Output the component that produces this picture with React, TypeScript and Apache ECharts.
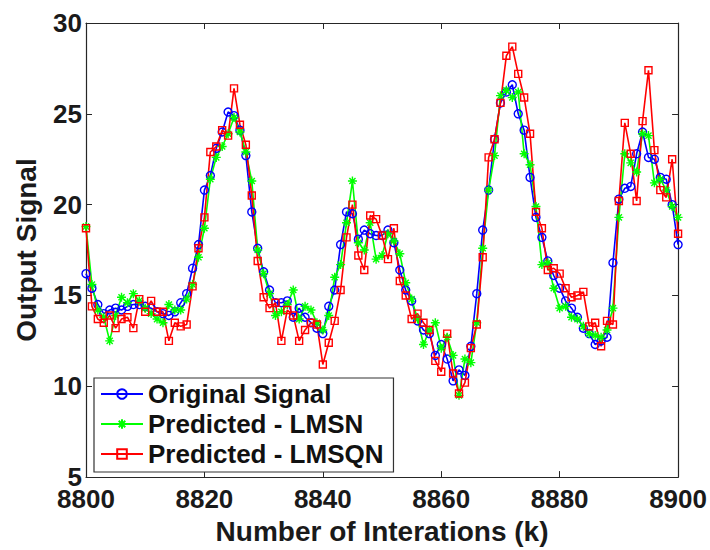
import React, { useEffect, useRef } from "react";
import * as echarts from "echarts";

const startIteration = 8800;
const xTicks = [8800, 8820, 8840, 8860, 8880, 8900];
const yTicks = [5, 10, 15, 20, 25, 30];

const originalSignal = [
  16.2, 15.4, 14.5, 14.0, 14.2, 14.3, 14.2, 14.4, 14.5, 14.5,
  14.4, 14.3, 14.1, 14.0, 13.9, 14.1, 14.6, 15.1, 16.5, 17.8,
  20.8, 21.6, 23.1, 24.0, 25.1, 24.9, 24.1, 22.7, 19.6, 17.6,
  16.3, 15.3, 14.6, 14.6, 14.7, 13.8, 14.3, 13.8, 13.5, 13.2,
  12.9, 14.4, 15.3, 17.8, 19.6, 19.5, 18.1, 18.6, 18.4, 18.3,
  18.3, 18.6, 17.9, 16.4, 15.3, 14.7, 13.6, 13.1, 12.9, 11.7,
  12.3, 11.5, 10.3, 10.9, 10.6, 12.2, 15.1, 18.6, 20.8, 23.6,
  25.6, 26.2, 26.6, 25.0, 24.1, 21.5, 19.3, 18.2, 16.9, 16.1,
  15.4, 14.7, 14.3, 13.8, 13.2, 12.9, 12.3, 12.5, 12.7, 16.8,
  20.3, 20.9, 21.0, 22.8, 24.0, 22.6, 22.5, 21.5, 21.4, 20.0,
  17.8,
];

const predictedLMSN = [
  18.8, 15.6, 14.2, 13.8, 12.5, 13.9, 14.9, 14.6, 15.1, 14.7,
  14.3, 14.0, 13.7, 13.5, 14.5, 14.2, 14.2, 14.8, 15.6, 17.1,
  18.7, 21.4, 22.6, 23.2, 23.9, 24.8, 24.0, 22.9, 21.3, 17.5,
  16.2, 15.1, 13.9, 14.1, 14.5, 15.3, 13.7, 14.4, 14.2, 13.5,
  13.1, 13.9, 16.0, 16.7, 19.0, 21.3, 17.9, 17.5, 19.0, 17.0,
  17.2, 18.4, 18.0, 17.3, 15.7, 14.8, 13.7, 12.3, 13.1, 13.5,
  12.1, 12.7, 11.7, 9.5, 11.5, 11.3, 13.5, 17.6, 20.8, 22.7,
  26.0, 26.3, 25.9, 26.2, 22.8, 22.2, 19.9, 16.7, 16.8, 15.4,
  14.3, 14.4, 13.8, 13.7, 13.3, 12.9, 12.8, 12.7, 13.1, 14.3,
  19.3, 22.8, 22.3, 21.8, 23.9, 23.8, 21.2, 21.4, 20.8, 19.9,
  19.3,
];

const predictedLMSQN = [
  18.7, 14.4, 13.7, 13.5, 13.9, 13.2, 13.7, 13.8, 13.2, 14.8,
  14.1, 14.7, 14.1, 14.1, 12.5, 13.5, 13.3, 13.4, 15.5, 17.6,
  19.3, 22.9, 23.2, 24.1, 23.8, 26.4, 24.4, 23.3, 20.5, 16.9,
  14.9, 14.3, 14.6, 12.5, 14.2, 13.9, 12.5, 13.1, 13.5, 13.4,
  11.2, 12.4, 13.6, 15.3, 18.2, 20.0, 17.2, 16.4, 19.4, 19.2,
  18.3, 17.0, 18.7, 15.8, 15.0, 13.7, 14.0, 13.5, 13.1, 11.4,
  10.8, 12.9, 10.7, 9.6, 10.2, 12.1, 13.4, 17.1, 22.6, 23.6,
  25.6, 28.2, 28.7, 27.2, 25.9, 23.9, 19.6, 18.7, 16.4, 16.5,
  16.2, 15.4, 14.9, 15.0, 15.2, 13.3, 13.5, 12.2, 13.6, 13.4,
  20.2, 24.5, 22.8, 20.2, 24.6, 27.4, 23.0, 20.8, 20.4, 22.5,
  18.4,
];

const seriesNames = ["Original Signal", "Predicted - LMSN", "Predicted - LMSQN"];

const toPairs = (vals: number[]) => vals.map((v, i) => [startIteration + i, v]);

const FONT = "'Liberation Sans', Arial, Helvetica, sans-serif";
const AXIS_COLOR = "#262626";
const TEXT_COLOR = "#1a1a1a";

const asterisk = "path://M5,0L5,10M0,5L10,5M1.6,1.6L8.4,8.4M8.4,1.6L1.6,8.4";

export default function App() {
  const ref = useRef<HTMLDivElement>(null);

  useEffect(() => {
    if (!ref.current) return;
    const chart = echarts.init(ref.current, undefined, { renderer: "svg" });
    const axisLabel = {
      fontFamily: FONT,
      fontWeight: "bold" as const,
      fontSize: 26,
      color: TEXT_COLOR,
    };
    const option: any = {
      animation: false,
      backgroundColor: "#ffffff",
      grid: { left: 86, right: 30, top: 23, bottom: 63, containLabel: false },
      legend: {
        orient: "vertical",
        left: 94,
        top: 378,
        padding: [3, 10, 5, 6],
        itemWidth: 42,
        itemHeight: 12,
        itemGap: 4,
        borderColor: "#333333",
        borderWidth: 1.2,
        backgroundColor: "#ffffff",
        textStyle: {
          fontFamily: FONT,
          fontWeight: "bold",
          fontSize: 26,
          color: "#111111",
        },
        data: seriesNames,
      },
      xAxis: [
        {
          type: "value",
          min: 8800,
          max: 8900,
          interval: 20,
          name: "Number of Interations (k)",
          nameLocation: "middle",
          nameGap: 32,
          nameTextStyle: { ...axisLabel, fontSize: 28 },
          axisLine: { show: true, lineStyle: { color: AXIS_COLOR, width: 1.2 } },
          axisTick: { show: true, inside: true, length: 6, lineStyle: { color: AXIS_COLOR } },
          axisLabel: { ...axisLabel, margin: 9, formatter: (v: number) => (xTicks.includes(v) ? String(v) : "") },
          splitLine: { show: false },
        },
        {
          type: "value",
          position: "top",
          min: 8800,
          max: 8900,
          interval: 20,
          axisLine: { show: true, lineStyle: { color: AXIS_COLOR, width: 1.2 } },
          axisTick: { show: true, inside: true, length: 6, lineStyle: { color: AXIS_COLOR } },
          axisLabel: { show: false },
          splitLine: { show: false },
        },
      ],
      yAxis: [
        {
          type: "value",
          min: 5,
          max: 30,
          interval: 5,
          name: "Output Signal",
          nameLocation: "middle",
          nameGap: 46,
          nameRotate: 90,
          nameTextStyle: { ...axisLabel, fontSize: 28 },
          axisLine: { show: true, lineStyle: { color: AXIS_COLOR, width: 1.2 } },
          axisTick: { show: true, inside: true, length: 6, lineStyle: { color: AXIS_COLOR } },
          axisLabel: { ...axisLabel, margin: 4, formatter: (v: number) => (yTicks.includes(v) ? String(v) : "") },
          splitLine: { show: false },
        },
        {
          type: "value",
          position: "right",
          min: 5,
          max: 30,
          interval: 5,
          axisLine: { show: true, lineStyle: { color: AXIS_COLOR, width: 1.2 } },
          axisTick: { show: true, inside: true, length: 6, lineStyle: { color: AXIS_COLOR } },
          axisLabel: { show: false },
          splitLine: { show: false },
        },
      ],
      series: [
        {
          name: seriesNames[0],
          type: "line",
          data: toPairs(originalSignal),
          symbol: "circle",
          symbolSize: 8,
          showAllSymbol: true,
          lineStyle: { color: "#0000ff", width: 1.6 },
          itemStyle: { color: "rgba(0,0,0,0)", borderColor: "#0000ff", borderWidth: 1.4 },
          emphasis: { disabled: true },
        },
        {
          name: seriesNames[1],
          type: "line",
          data: toPairs(predictedLMSN),
          symbol: asterisk,
          symbolSize: 9,
          showAllSymbol: true,
          lineStyle: { color: "#00ff00", width: 1.6 },
          itemStyle: { color: "rgba(0,0,0,0)", borderColor: "#00ff00", borderWidth: 1.4 },
          emphasis: { disabled: true },
        },
        {
          name: seriesNames[2],
          type: "line",
          data: toPairs(predictedLMSQN),
          symbol: "rect",
          symbolSize: 7,
          showAllSymbol: true,
          lineStyle: { color: "#ff0000", width: 1.6 },
          itemStyle: { color: "rgba(0,0,0,0)", borderColor: "#ff0000", borderWidth: 1.4 },
          emphasis: { disabled: true },
        },
      ],
    };
    chart.setOption(option);
    return () => chart.dispose();
  }, []);

  return (
    <div
      ref={ref}
      style={{ position: "absolute", left: 0, top: 0, width: 710, height: 550 }}
    />
  );
}
